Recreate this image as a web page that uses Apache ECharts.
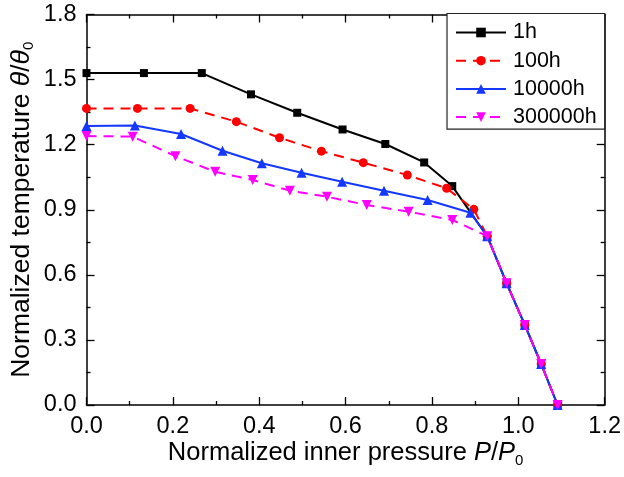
<!DOCTYPE html>
<html>
<head>
<meta charset="utf-8">
<script src="https://cdn.jsdelivr.net/npm/echarts@6/dist/echarts.min.js"></script>
<style>html,body{margin:0;padding:0;background:#fff;}#c{width:624px;height:477px;}</style>
</head>
<body>
<div id="c"></div>
<script>
const seriesNames = ['1h', '100h', '10000h', '300000h'];
const p1h = [0, 0.133, 0.267, 0.381, 0.488, 0.593, 0.692, 0.782, 0.847];
const t1h = [1.53, 1.53, 1.53, 1.432, 1.347, 1.270, 1.203, 1.118, 1.009];
const p100h = [0, 0.118, 0.240, 0.347, 0.447, 0.544, 0.641, 0.743, 0.834, 0.897];
const t100h = [1.367, 1.367, 1.367, 1.306, 1.232, 1.170, 1.117, 1.060, 0.999, 0.902];
const p10000h = [0, 0.112, 0.219, 0.315, 0.406, 0.498, 0.592, 0.689, 0.790, 0.889];
const t10000h = [1.286, 1.288, 1.249, 1.172, 1.114, 1.071, 1.029, 0.988, 0.945, 0.886];
const p300000h = [0, 0.107, 0.206, 0.298, 0.385, 0.471, 0.557, 0.649, 0.746, 0.847];
const t300000h = [1.240, 1.237, 1.147, 1.075, 1.037, 0.988, 0.960, 0.922, 0.891, 0.853];
const tailP = [0.928, 0.973, 1.015, 1.053, 1.091];
const tailT = [0.778, 0.561, 0.369, 0.189, 0.0];
const xTicks = [0, 0.2, 0.4, 0.6, 0.8, 1.0, 1.2];
const yTicks = [0, 0.3, 0.6, 0.9, 1.2, 1.5, 1.8];

function pts(p, t) {
  const tt = t.concat(tailT);
  return p.concat(tailP).map((v, i) => [v, tt[i]]);
}
const FONT = '"Liberation Sans", Arial, sans-serif';
const chart = echarts.init(document.getElementById('c'), null, {renderer: 'canvas'});
const axisCommon = {
  axisLine: {show: true, onZero: false, lineStyle: {color: '#000', width: 1.5}},
  axisTick: {show: true, inside: true, length: 8, lineStyle: {color: '#000', width: 1.3}},
  minorTick: {show: true, splitNumber: 2, length: 4, lineStyle: {color: '#000', width: 1.3}},
  splitLine: {show: false}
};
const styles = [
  {color: '#000000', symbol: 'rect', size: 8, type: 'solid'},
  {color: '#ff0000', symbol: 'circle', size: 9, type: [10, 7]},
  {color: '#1438ff', symbol: 'triangle', size: 10, type: 'solid'},
  {color: '#ff00ff', symbol: 'path://M0,0 L10,0 L5,9 Z', size: 10, type: [10, 7]}
];
const data = [pts(p1h, t1h), pts(p100h, t100h), pts(p10000h, t10000h), pts(p300000h, t300000h)];
function rich(fs) {
  return {
    i: {fontFamily: FONT, fontSize: fs, fontStyle: 'italic', color: '#000'},
    sub: {fontFamily: FONT, fontSize: 15, color: '#000', verticalAlign: 'bottom', padding: [15, 0, 0, 0]}
  };
}
chart.setOption({
  animation: false,
  backgroundColor: '#fff',
  grid: {left: 81.7, right: 18.3, top: 14.5, bottom: 72, containLabel: false},
  legend: {
    orient: 'vertical', left: 447, top: 13.5,
    data: seriesNames,
    itemWidth: 50, itemHeight: 12, itemGap: 6.2,
    padding: [8, 8, 1, 8],
    borderColor: '#222', borderWidth: 1.2,
    backgroundColor: '#fff',
    textStyle: {fontFamily: FONT, fontSize: 21.5, color: '#000', padding: [0, 0, 0, 2]}
  },
  xAxis: [
    Object.assign({}, axisCommon, {
      type: 'value', min: 0, max: 1.2, interval: 0.2, position: 'bottom',
      axisLabel: {fontFamily: FONT, fontSize: 23.5, color: '#000', margin: 10,
        formatter: v => xTicks.includes(+v.toFixed(1)) ? v.toFixed(1) : ''},
      name: 'Normalized inner pressure {i|P}/{i|P}{sub|0}',
      nameLocation: 'middle', nameGap: 33, nameMoveOverlap: false,
      nameTextStyle: {fontFamily: FONT, fontSize: 25.5, color: '#000', rich: rich(25.5)}
    }),
    Object.assign({}, axisCommon, {
      type: 'value', min: 0, max: 1.2, interval: 0.2, position: 'top',
      axisLabel: {show: false}
    })
  ],
  yAxis: [
    Object.assign({}, axisCommon, {
      type: 'value', min: 0, max: 1.8, interval: 0.3, position: 'left',
      axisLabel: {fontFamily: FONT, fontSize: 23.5, color: '#000', margin: 10,
        formatter: v => yTicks.includes(+v.toFixed(1)) ? v.toFixed(1) : ''},
      name: 'Normalized temperature {i|θ}/{i|θ}{sub|0}',
      nameLocation: 'middle', nameGap: 50, nameRotate: 90, nameMoveOverlap: false,
      nameTextStyle: {fontFamily: FONT, fontSize: 26.5, color: '#000', rich: rich(26.5)}
    }),
    Object.assign({}, axisCommon, {
      type: 'value', min: 0, max: 1.8, interval: 0.3, position: 'right',
      axisLabel: {show: false}
    })
  ],
  series: seriesNames.map((n, i) => ({
    name: n, type: 'line', xAxisIndex: 0, yAxisIndex: 0,
    data: data[i],
    symbol: styles[i].symbol, symbolSize: styles[i].size,
    showAllSymbol: true,
    itemStyle: {color: styles[i].color, opacity: 1},
    lineStyle: {color: styles[i].color, width: 2, type: styles[i].type},
    emphasis: {disabled: true},
    z: 2 + i
  }))
});
</script>
</body>
</html>
